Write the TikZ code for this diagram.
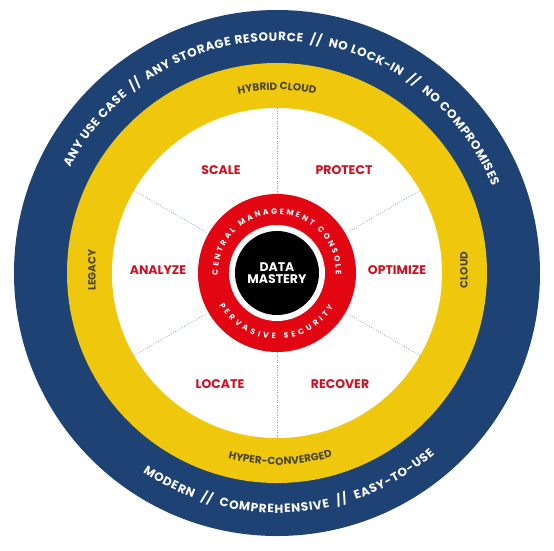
\documentclass[tikz,border=0pt]{standalone}
\usepackage{fontspec}
\setmainfont{Poppins}
\usetikzlibrary{decorations.text}
\definecolor{navy}{RGB}{30,66,116}
\definecolor{gold}{RGB}{239,200,14}
\definecolor{ringred}{RGB}{226,6,19}
\definecolor{lblred}{RGB}{208,16,34}
\definecolor{olive}{RGB}{72,68,44}
\definecolor{dotc}{RGB}{140,158,188}
\newcommand\outerfont{\bfseries\fontsize{12}{12}\selectfont\color{white}}
\newcommand\midfont{\bfseries\fontsize{10.5}{11}\selectfont\color{olive}}
\newcommand\redfont{\bfseries\fontsize{7.8}{8}\selectfont\color{white}}
\newcommand\gapk{\kern2.5pt}
\begin{document}
\begin{tikzpicture}[x=1pt,y=1pt,
  disc/.style={circle,inner sep=0pt,outer sep=0pt,draw=none},
  lbl/.style={font=\bfseries\fontsize{12.5}{14}\selectfont,text=lblred},
  sidelbl/.style={font=\bfseries\fontsize{10.5}{11}\selectfont,text=olive,rotate=90},
  divider/.style={dotc,line width=0.8pt,dash pattern=on 0.8pt off 1.7pt},
  arctext/.style={decorate,decoration={text along path,text align=fit to path,text={#1}}},
  arccenter/.style={decorate,decoration={text along path,text align=center,text={#1}}}]
\useasboundingbox (-277,-277) rectangle (277,273);
\fill[white] (-277,-277) rectangle (277,273);
\node[disc,fill=navy,minimum size=526pt] (outer) at (0,0) {};
\node[disc,fill=gold,minimum size=420pt] (mid) at (0,0) {};
\node[disc,fill=white,minimum size=330pt] (inner) at (0,0) {};
\node[disc,fill=ringred,minimum size=158pt] (redring) at (0,0) {};
\node[disc,fill=white,minimum size=96pt] (gap) at (0,0) {};
\node[disc,fill=black,minimum size=84pt,align=center,text=white,
  font=\bfseries\fontsize{12.5}{13}\selectfont] (core) at (0,0) {DATA\\[-1pt]MASTERY};
% dividers
\foreach \a in {30,90,150,210,270,330}{
  \draw[divider] (redring.\a) -- (inner.\a);
}
% sector labels
\node[lbl] (scale) at (-56,103) {SCALE};
\node[lbl] (protect) at (67,103) {PROTECT};
\node[lbl] (analyze) at (-119,3) {ANALYZE};
\node[lbl] (optimize) at (120,3) {OPTIMIZE};
\node[lbl] (locate) at (-57,-111) {LOCATE};
\node[lbl] (recover) at (63,-111) {RECOVER};
% outer ring texts
\path[arctext={|\outerfont|ANY USE CASE {\gapk}//{\gapk} ANY STORAGE RESOURCE {\gapk}//{\gapk} NO LOCK-IN {\gapk}//{\gapk} NO COMPROMISES}]
  (153:232) arc[start angle=153,end angle=22,radius=232];
\path[arctext={|\outerfont|MODERN {\gapk}//{\gapk} COMPREHENSIVE {\gapk}//{\gapk} EASY-TO-USE}]
  (236:240) arc[start angle=236,end angle=311,radius=240];
% yellow ring texts
\path[arccenter={|\midfont|HYBRID CLOUD}]
  (130:183) arc[start angle=130,end angle=50,radius=183];
\path[arccenter={|\midfont|HYPER-CONVERGED}]
  (231:192) arc[start angle=231,end angle=311,radius=192];
\node[sidelbl] (legacy) at (-185,3) {LEGACY};
\node[sidelbl] (cloud) at (187,3) {CLOUD};
% red ring texts
\path[arctext={|\redfont|CENTRAL MANAGEMENT CONSOLE}]
  (182:59) arc[start angle=182,end angle=-2,radius=59];
\path[arctext={|\redfont|PERVASIVE SECURITY}]
  (209:66) arc[start angle=209,end angle=329,radius=66];
\end{tikzpicture}
\end{document}
